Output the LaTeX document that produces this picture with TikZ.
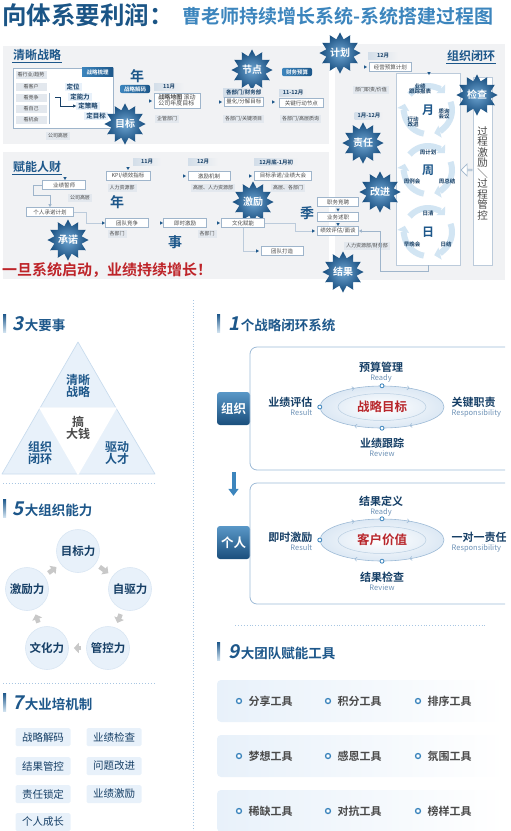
\documentclass[tikz,border=0pt]{standalone}
\usepackage{fontspec}
\setmainfont{Noto Sans CJK SC}[BoldFont={Noto Sans CJK SC Bold}]
\usepackage{xcolor}
\definecolor{titleblue}{HTML}{1B5586}
\definecolor{subblue}{HTML}{3C85BD}
\definecolor{headblue}{HTML}{1D578A}
\definecolor{deepblue}{HTML}{163F66}
\definecolor{panelgray}{HTML}{F1F2F4}
\definecolor{boxline}{HTML}{9FB5CB}
\definecolor{notebg}{HTML}{E3E8EE}
\definecolor{monthbg}{HTML}{D3DEE9}
\definecolor{txtgray}{HTML}{4A4A4A}
\definecolor{softblue}{HTML}{E8F1FA}
\definecolor{paleline}{HTML}{C9DCEE}
\definecolor{cycblue}{HTML}{D2E5F3}
\definecolor{starin}{HTML}{6FA6D3}
\definecolor{starout}{HTML}{154B7C}
\definecolor{slogred}{HTML}{BE2429}
\definecolor{goalred}{HTML}{B8262B}
\definecolor{captxt}{HTML}{6E92B6}
\definecolor{arrgray}{HTML}{C8C8C8}
\definecolor{dotblue}{HTML}{A8C6E2}
\definecolor{ringfill}{HTML}{DCE8F4}
\definecolor{ringedge}{HTML}{9DBAD6}
\usepackage{tikz}
\usetikzlibrary{
  arrows.meta,
  positioning,
  shapes.geometric,
  shapes.arrows,
  calc,
  decorations.markings,
}
\newcommand{\fsz}[1]{\fontsize{#1}{#1}\selectfont}

\begin{document}
\begin{tikzpicture}[
  x=1pt, y=-1pt,
  panel/.style={fill=panelgray},
  headline/.style={font=\bfseries\fsz{12}, text=headblue, inner sep=1pt},
  ulline/.style={draw=headblue, line width=0.7pt},
  smallbox/.style={rectangle, draw=boxline, fill=white, line width=0.6pt, font=\fsz{5.5}, text=txtgray, inner xsep=2pt, inner ysep=1.5pt, minimum height=9},
  month/.style={left color=monthbg, right color=panelgray, font=\bfseries\fsz{5.5}, text=deepblue, inner xsep=3pt, inner ysep=1.3pt, anchor=west},
  note/.style={fill=notebg, font=\fsz{5}, text=txtgray, inner xsep=2pt, inner ysep=1.3pt},
  pill/.style={rounded corners=2pt, left color=subblue, right color=headblue, font=\bfseries\fsz{5.5}, text=white, inner xsep=3pt, inner ysep=1.6pt},
  stepname/.style={fill=softblue, font=\bfseries\fsz{6.5}, text=deepblue, inner xsep=2pt, inner ysep=1pt},
  bigchar/.style={font=\bfseries\fsz{14}, text=headblue},
  burst/.style={star, star points=12, star point ratio=1.45, minimum size=34, inner sep=0pt, inner color=starin, outer color=starout, font=\bfseries\fsz{10}, text=white},
  tipmark/.style={isosceles triangle, isosceles triangle apex angle=60, fill=headblue, minimum size=3, inner sep=0pt},
  tipdown/.style={tipmark, shape border rotate=-90},
  faint/.style={draw=boxline!70, line width=0.5pt},
  board/.style={fill=white, draw=boxline!70, line width=0.6pt},
  hollow/.style={single arrow, draw=boxline, fill=white, line width=0.7pt, minimum height=11, minimum width=12, single arrow head extend=2.5, shape border rotate=180, inner sep=0pt},
  cycarrow/.style={draw=cycblue, line width=6pt, -{Triangle[width=12pt, length=6pt]}},
  cycname/.style={font=\bfseries\fsz{12}, text=headblue},
  cyclab/.style={font=\bfseries\fsz{5.5}, text=deepblue, align=center, inner sep=0.5pt},
  bar/.style={minimum width=3, minimum height=18, inner sep=0pt, top color=headblue, bottom color=subblue!25},
  bignum/.style={font=\bfseries\fsz{19}\addfontfeature{FakeSlant=0.2}, text=headblue, inner sep=0pt, anchor=base west},
  sechead/.style={font=\bfseries\fsz{13.5}, text=headblue, inner sep=0pt},
  tri/.style={fill=softblue, draw=paleline, line width=0.7pt, line join=round},
  trilab/.style={font=\bfseries\fsz{12}, text=headblue, align=center},
  power/.style={circle, fill=softblue, draw=paleline!70, line width=0.6pt, minimum size=43, inner sep=0pt, font=\bfseries\fsz{11.5}, text=deepblue},
  turn/.style={draw=arrgray, line width=4.5pt, -{Triangle[width=10pt, length=5pt]}, shorten <=5pt, shorten >=5pt},
  tag/.style={fill=softblue, rounded corners=1.5pt, minimum width=55, minimum height=18, font=\fsz{10.5}, text=deepblue},
  sep/.style={draw=dotblue, dotted, line width=0.9pt},
  loopbox/.style={draw=ringedge, line width=0.8pt, rounded corners=7pt},
  tab/.style={rounded corners=3pt, top color=subblue!85, bottom color=headblue!90!black, font=\bfseries\fsz{12.5}, text=white, minimum width=33, minimum height=33, inner sep=0pt},
  ring/.style={ellipse, minimum width=124, minimum height=42, inner color=white, outer color=ringfill},
  ringline/.style={draw=ringedge, line width=0.6pt, postaction={decorate}, decoration={markings,
    mark=at position 0.15 with {\arrow{Straight Barb[length=2pt, width=4pt]}},
    mark=at position 0.35 with {\arrow{Straight Barb[length=2pt, width=4pt]}},
    mark=at position 0.65 with {\arrow{Straight Barb[length=2pt, width=4pt]}},
    mark=at position 0.85 with {\arrow{Straight Barb[length=2pt, width=4pt]}}}},
  ringcore/.style={ellipse, draw=ringedge!70, line width=0.5pt, minimum width=88, minimum height=27, font=\bfseries\fsz{12.5}, text=goalred},
  ringdot/.style={circle, draw=subblue, fill=white, line width=0.8pt, minimum size=4, inner sep=0pt},
  phase/.style={font=\bfseries\fsz{11}, text=deepblue, inner sep=0.5pt},
  phasecap/.style={font=\fsz{7.5}, text=captxt, inner sep=0.5pt},
  downarr/.style={draw=subblue, line width=4pt, -{Triangle[width=10pt, length=7pt]}, shorten <=47pt, shorten >=30pt},
  toolrow/.style={rounded corners=4pt, left color=softblue, right color=white, minimum width=288, minimum height=42},
  tool/.style={font=\bfseries\fsz{11}, text=txtgray},
  bullet/.style={circle, draw=subblue, line width=1.3pt, fill=white, minimum size=5, inner sep=0pt},
]
  \useasboundingbox (0,0) rectangle (511,831);

  % Title
  \node[anchor=west, font=\bfseries\fsz{24.5}, text=titleblue, inner sep=0pt] (title) at (2,15) {向体系要利润：};
  \node[anchor=west, font=\bfseries\fsz{19}, text=subblue, inner sep=0pt] (subtitle) at (182,16) {曹老师持续增长系统-系统搭建过程图};

  % Top board
  \fill[panel] (3,46) rectangle (329,144);
  \fill[panel] (3,152) rectangle (329,279);
  \fill[panel] (335,44) rectangle (505,280);

  % Clear strategy
  \node[headline, anchor=west] (clearhd) at (12,55) {清晰战略};
  \draw[ulline] (clearhd.south west) -- (clearhd.south east);
  \node[smallbox, minimum width=100, minimum height=60] (sortbox) at (63,98) {};
  \node[pill, rounded corners=0pt, anchor=north east, minimum width=31, minimum height=9] (sorttab) at (sortbox.north east) {战略梳理};
  \node[note, minimum width=31] (look1) at (31,75) {看行业/趋势};
  \node[note, minimum width=31] (look2) at (31,87) {看客户};
  \node[note, minimum width=31] (look3) at (31,98) {看竞争};
  \node[note, minimum width=31] (look4) at (31,109) {看自己};
  \node[note, minimum width=31] (look5) at (31,120) {看机会};
  \draw[boxline, line width=0.6pt] (49,93) -- (49,124);
  \node[stepname] (dpos) at (73,87) {定位};
  \node[stepname] (dcap) at (80,97) {定能力};
  \node[stepname] (dstr) at (88,106) {定策略};
  \node[stepname] (dgoal) at (96,116) {定目标};
  \coordinate (brk) at (55,97);
  \draw[deepblue, line width=0.5pt, -{Triangle[length=3pt, width=3pt]}] (brk) -- ++(5,0) |- (dstr.west);
  \node[note] (sorthigh) at (58,136) {公司高层};

  \node[bigchar] (yearA) at (137,76) {年};
  \node[pill, minimum width=30] (decode) at (135,89) {战略解码};
  \node[tipmark] (markA1) at (150,101) {};
  \node[month, minimum width=30] (novA) at (154,87) {11月};
  \node[smallbox, minimum width=46, minimum height=15, align=left, font=\fsz{6}] (stratmap) at (177,100.5) {\textbf{战略地图} 滚动\\公司年度目标};
  \node[note, anchor=west] (entdept) at (155,119) {企管部门};
  \node[burst] (goalstar) at (125,124) {目标};

  \node[burst] (nodestar) at (252,70) {节点};
  \node[pill, minimum width=30] (budget) at (297,72) {财务预算};
  \node[month] (finhead) at (223,93) {各部门/财务部};
  \node[tipmark] (markA2) at (220,102) {};
  \node[smallbox, anchor=west, minimum width=38] (quant) at (224,102) {量化/分解目标};
  \node[note, anchor=west] (keyproj) at (223,119) {各部门/关键项目};
  \node[tipmark] (markA3) at (273,102) {};
  \node[month, minimum width=28] (novdecA) at (279,93) {11-12月};
  \node[smallbox, anchor=west, minimum width=44] (keyact) at (279,103) {关键行动节点};
  \node[note, anchor=west] (inquiry) at (280,119) {各部门/高层质询};

  % Organisation loop
  \node[burst] (planstar) at (340,53) {计划};
  \node[month, minimum width=30] (decC) at (368,56) {12月};
  \node[tipmark] (markC1) at (365,67) {};
  \node[smallbox, anchor=west, minimum width=42] (opplan) at (369,67) {经营预算计划};
  \node[headline, anchor=west] (orghd) at (446,56) {组织闭环};
  \draw[ulline] (orghd.south west) -- (orghd.south east);
  \node[note] (duty) at (371,90) {部门职责/价值};
  \node[month, anchor=center] (fullyear) at (369,116) {1月-12月};

  \node[board, minimum width=64, minimum height=192] (cyclebox) at (428,169) {};
  \node[tipdown] (markC2) at (429,73) {};
  \node[board, minimum width=19, minimum height=188] (ctrlstrip) at (482.5,171) {};
  \node[font=\fsz{10.5}, text=txtgray, align=center, inner sep=0pt] (ctrltxt) at (482.5,173) {\fontsize{10.5}{11}\selectfont 过\\程\\激\\励\\＼\\过\\程\\管\\控};
  \node[hollow] (backarr) at (467,170) {};

  \coordinate (moncen) at (428,110);
  \coordinate (wkcen) at (428,170);
  \coordinate (daycen) at (428,232);
  \foreach \cen in {moncen,wkcen,daycen}{
    \foreach \a in {100,220,340}
      \draw[cycarrow] ($(\cen)+(\a:24)$) arc[start angle=\a, end angle=\a+95, radius=24];
  }
  \node[cycname] (mon) at (moncen) {月};
  \node[cyclab] (track) at (420,89) {业绩\\跟踪报表};
  \node[cyclab] (review) at (444,114) {质询\\会议};
  \node[cyclab] (improve) at (413,122) {行动\\改进};
  \node[cycname] (wk) at (wkcen) {周};
  \node[cyclab] (wkplan) at (428,152) {周计划};
  \node[cyclab] (wkmeet) at (412,181) {周例会};
  \node[cyclab] (wksum) at (447,181) {周总结};
  \node[cycname] (day) at (daycen) {日};
  \node[cyclab] (dayclr) at (428,213) {日清};
  \node[cyclab] (daymeet) at (412,244) {早晚会};
  \node[cyclab] (dayend) at (446,244) {日结};

  \node[burst] (dutystar) at (363,143) {责任};
  \node[burst] (checkstar) at (477,95) {检查};
  \node[burst] (fixstar) at (380,192) {改进};

  % Empower people
  \node[headline, anchor=west] (powerhd) at (12,167) {赋能人财};
  \draw[ulline] (powerhd.south west) -- (powerhd.south east);
  \node[tipdown] (markB0) at (65,178) {};
  \node[smallbox, minimum width=43] (oath) at (64,185) {业绩誓师};
  \node[note] (oathhigh) at (80,198) {公司高层};
  \node[smallbox, minimum width=47] (pledge) at (50,212) {个人承诺计划};
  \draw[boxline, line width=0.6pt, -{Triangle[length=3pt, width=3pt]}] (oath.west) -- ++(-9,0) -- ++(0,10) -| (pledge.north);
  \node[burst] (promstar) at (68,240) {承诺};

  \node[month, minimum width=28] (novB) at (133,162) {11月};
  \node[tipdown] (markB1) at (128,168) {};
  \node[smallbox, minimum width=44] (kpi) at (128,176) {KPI/绩效指标};
  \node[note] (hrdept) at (122,188) {人力资源部};
  \node[bigchar] (yearB) at (117,202) {年};
  \node[tipmark] (markB2) at (184,176) {};
  \node[month, minimum width=30] (decB) at (188,162) {12月};
  \node[smallbox, minimum width=42] (incent) at (209,176) {激励机制};
  \node[note] (hrhigh) at (213,188) {高层、人力资源部};
  \node[tipmark] (markB3) at (250,176) {};
  \node[month, minimum width=44] (newyear) at (254,162) {12月底-1月初};
  \node[smallbox, minimum width=57] (rally) at (283,176) {目标承诺/业绩大会};
  \node[note] (alldept) at (288,188) {高层、各部门};
  \node[burst] (motivstar) at (253,202) {激励};

  \node[tipmark] (markB4) at (103,223) {};
  \node[smallbox, minimum width=43] (teamcomp) at (127,223) {团队竞争};
  \node[note] (deptA) at (117,234) {各部门};
  \node[tipmark] (markB5) at (161,223) {};
  \node[smallbox, minimum width=43] (instant) at (185,223) {即时激励};
  \node[note] (deptB) at (207,234) {各部门};
  \node[tipmark] (markB6) at (218,223) {};
  \node[smallbox, minimum width=43] (culture) at (243,223) {文化赋能};
  \node[bigchar] (affair) at (175,242) {事};
  \node[tipmark] (markB7) at (257,251) {};
  \node[smallbox, minimum width=42] (teambuild) at (282,251) {团队打造};
  \draw[faint] (pledge.east) -- ++(12,0) |- (markB4.west);
  \draw[faint] (culture.south) |- (markB7.west);

  \node[bigchar] (season) at (307,213) {季};
  \node[smallbox, minimum width=41] (postcomp) at (338,202) {职务竞聘};
  \node[tipdown] (markS1) at (338,209.5) {};
  \node[smallbox, minimum width=41] (report) at (338,217) {业务述职};
  \node[tipdown] (markS2) at (338,224) {};
  \node[smallbox, minimum width=41] (appraisal) at (338,231) {绩效评估/面谈};
  \node[tipmark] (markS3) at (313,231) {};
  \draw[faint] (culture.east) -- ++(30,0) |- (markS3.west);
  \node[note] (hrfin) at (367,246) {人力资源部/财务部};
  \draw[boxline, line width=0.6pt, -{Triangle[length=3pt, width=3pt]}] (cyclebox.south) -- ++(0,6) -| ($(appraisal.east)+(21,0)$) -- (appraisal.east);
  \node[burst] (resstar) at (343,272) {结果};

  \node[anchor=west, font=\bfseries\fsz{15}, text=slogred, inner sep=0pt] (slogan) at (2,270) {一旦系统启动，业绩持续增长！};

  % Column divider
  \draw[sep] (193,300) -- (193,831);

  % 3 major things
  \node[bar] (bar3) at (4.5,323) {};
  \node[bignum] (num3) at (12,330) {3};
  \node[sechead, base right=1pt of num3] (hd3) {大要事};
  \coordinate (apex) at (78,342);
  \coordinate (lmid) at (40,408);
  \coordinate (rmid) at (116,408);
  \coordinate (lbase) at (2,474);
  \coordinate (bmid) at (78,474);
  \coordinate (rbase) at (155,474);
  \filldraw[tri] (apex) -- (lmid) -- (rmid) -- cycle;
  \filldraw[tri] (lmid) -- (lbase) -- (bmid) -- cycle;
  \filldraw[tri] (rmid) -- (bmid) -- (rbase) -- cycle;
  \filldraw[fill=white, draw=white, line width=1.5pt] (lmid) -- (rmid) -- (bmid) -- cycle;
  \node[trilab] (clearstr) at (78,386) {清晰\\战略};
  \node[trilab] (orgloop) at (40,453) {组织\\闭环};
  \node[trilab] (drivetal) at (117,453) {驱动\\人才};
  \node[trilab, text=txtgray] (bigmoney) at (78,428) {搞\\大钱};
  \draw[sep] (3,483) -- (155,483);

  % 5 organisation powers
  \node[bar] (bar5) at (4.5,508) {};
  \node[bignum] (num5) at (12,515) {5};
  \node[sechead, base right=1pt of num5] (hd5) {大组织能力};
  \node[power] (pgoal) at (78,551) {目标力};
  \node[power] (pself) at (130,589) {自驱力};
  \node[power] (pctrl) at (108,648) {管控力};
  \node[power] (pcult) at (47,648) {文化力};
  \node[power] (pinc) at (27,589) {激励力};
  \draw[turn] (pgoal) -- (pself);
  \draw[turn] (pself) -- (pctrl);
  \draw[turn] (pctrl) -- (pcult);
  \draw[turn] (pcult) -- (pinc);
  \draw[turn] (pinc) -- (pgoal);
  \draw[sep] (3,683) -- (155,683);

  % 7 training mechanisms
  \node[bar] (bar7) at (4.5,702) {};
  \node[bignum] (num7) at (12,709) {7};
  \node[sechead, base right=1pt of num7] (hd7) {大业培机制};
  \node[tag] (tdecode) at (43,737) {战略解码};
  \node[tag] (tcheck) at (114,737) {业绩检查};
  \node[tag] (tcontrol) at (43,766) {结果管控};
  \node[tag] (tfix) at (114,766) {问题改进};
  \node[tag] (tlock) at (43,794) {责任锁定};
  \node[tag] (tmotiv) at (114,794) {业绩激励};
  \node[tag] (tgrow) at (43,822) {个人成长};

  % 1 strategy loop system
  \node[bar] (bar1) at (218.5,323) {};
  \node[bignum] (num1) at (228,330) {1};
  \node[sechead, base right=1pt of num1] (hd1) {个战略闭环系统};

  \node[tab] (orgtab) at (233.5,408.5) {组织};
  \draw[loopbox] (505,347) -| (250,470) -- (505,470);
  \node[ring] (orgring) at (382,407) {};
  \draw[ringline] (orgring.center) ellipse [x radius=62, y radius=21];
  \node[ringcore] (orgcore) at (orgring.center) {战略目标};
  \foreach \s in {north,south,west}
    \node[ringdot] (orgdot-\s) at (orgring.\s) {};
  \node[phase] (budgetmg) at (381,367) {预算管理};
  \node[phasecap, below=1pt of budgetmg] (budgetcap) {Ready};
  \node[phase, anchor=east] (evalres) at (313,402) {业绩评估};
  \node[phasecap, anchor=north east] (evalcap) at ([yshift=-1pt]evalres.south east) {Result};
  \node[phase, anchor=west] (keyduty) at (451,402) {关键职责};
  \node[phasecap, anchor=north west] (keycap) at ([yshift=-1pt]keyduty.south west) {Responsibility};
  \node[phase] (tracking) at (382,443) {业绩跟踪};
  \node[phasecap, below=1pt of tracking] (trackcap) {Review};

  \node[tab] (persontab) at (233.5,542.5) {个人};
  \draw[downarr] (orgtab) -- (persontab);
  \draw[loopbox] (505,483) -| (250,604) -- (505,604);
  \node[ring] (perring) at (382,540) {};
  \draw[ringline] (perring.center) ellipse [x radius=62, y radius=21];
  \node[ringcore] (percore) at (perring.center) {客户价值};
  \foreach \s in {north,south,west}
    \node[ringdot] (perdot-\s) at (perring.\s) {};
  \node[phase] (define) at (381,501) {结果定义};
  \node[phasecap, below=1pt of define] (definecap) {Ready};
  \node[phase, anchor=east] (instinc) at (313,537) {即时激励};
  \node[phasecap, anchor=north east] (instcap) at ([yshift=-1pt]instinc.south east) {Result};
  \node[phase, anchor=west] (onebyone) at (451,537) {一对一责任};
  \node[phasecap, anchor=north west] (onecap) at ([yshift=-1pt]onebyone.south west) {Responsibility};
  \node[phase] (rescheck) at (382,577) {结果检查};
  \node[phasecap, below=1pt of rescheck] (checkcap) {Review};
  \draw[sep] (235,625) -- (485,625);

  % 9 team tools
  \node[bar] (bar9) at (218.5,651) {};
  \node[bignum] (num9) at (228,658) {9};
  \node[sechead, base right=1pt of num9] (hd9) {大团队赋能工具};
  \foreach \rw/\yy/\ta/\tb/\tc in {1/701/分享工具/积分工具/排序工具, 2/756/梦想工具/感恩工具/氛围工具, 3/811/稀缺工具/对抗工具/榜样工具}{
    \node[toolrow] (row\rw) at (361,\yy) {};
    \node[bullet] (dot\rw a) at (239,\yy) {};
    \node[tool, right=3pt of dot\rw a] (tool\rw a) {\ta};
    \node[bullet] (dot\rw b) at (328,\yy) {};
    \node[tool, right=3pt of dot\rw b] (tool\rw b) {\tb};
    \node[bullet] (dot\rw c) at (418,\yy) {};
    \node[tool, right=3pt of dot\rw c] (tool\rw c) {\tc};
  }

\end{tikzpicture}
\end{document}
